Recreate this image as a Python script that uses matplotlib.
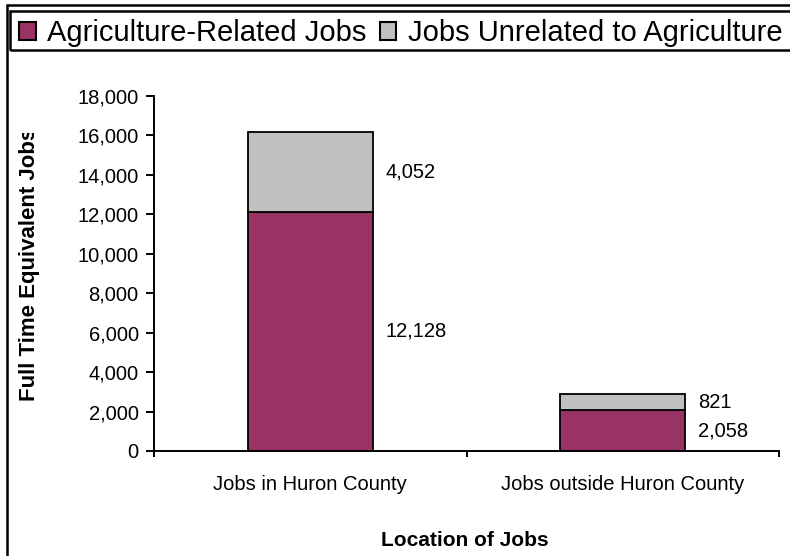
import matplotlib
matplotlib.use("Agg")
import matplotlib.pyplot as plt
from matplotlib.patches import Rectangle, Patch
from matplotlib.transforms import Bbox

plt.rcParams['font.family'] = ['Liberation Sans', 'DejaVu Sans']

categories = ["Jobs in Huron County", "Jobs outside Huron County"]
agri = [12128, 2058]
non_agri = [4052, 821]
series_names = ["Agriculture-Related Jobs", "Jobs Unrelated to Agriculture"]
yticks = [0, 2000, 4000, 6000, 8000, 10000, 12000, 14000, 16000, 18000]

c_agri = "#993366"
c_non = "#C0C0C0"

W, H = 790, 556
fig = plt.figure(figsize=(W / 100, H / 100), dpi=100)

def fx(px):
    return px / W

def fy(py):
    return 1 - py / H

# outer chart border (right/bottom extend past figure edge)
fig.add_artist(Rectangle((fx(7), fy(600)), fx(900), fy(5) - fy(600),
                         transform=fig.transFigure, fill=False,
                         edgecolor="black", linewidth=1.8))
# legend frame
fig.add_artist(Rectangle((fx(10), fy(50)), fx(900), fy(11) - fy(50),
                         transform=fig.transFigure, fill=False,
                         edgecolor="black", linewidth=1.8))

ax = fig.add_axes([fx(154), fy(451), fx(779) - fx(154), fy(96) - fy(451)])
x = list(range(len(categories)))
width = 0.4
ax.bar(x, agri, width=width, color=c_agri, edgecolor="black", linewidth=1.3)
ax.bar(x, non_agri, width=width, bottom=agri, color=c_non, edgecolor="black", linewidth=1.3)

for i in x:
    ax.text(i + width / 2 + 0.04, agri[i] / 2, f"{agri[i]:,}", ha="left", va="center", fontsize=14.5)
    ax.text(i + width / 2 + 0.04, agri[i] + non_agri[i] / 2, f"{non_agri[i]:,}", ha="left", va="center", fontsize=14.5)

ax.set_xlim(-0.5, 1.5)
ax.set_ylim(0, 18000)
ax.set_yticks(yticks)
ax.set_yticklabels([f"{v:,}" for v in yticks], fontsize=14.5)
ax.set_xticks(x)
ax.set_xticklabels(categories, fontsize=14.5)
ax.tick_params(axis="x", which="major", length=0, pad=17)
ax.set_xticks([-0.5, 0.5, 1.5], minor=True)
ax.tick_params(axis="x", which="minor", length=4.5, width=1.4, direction="out")
ax.tick_params(axis="y", length=6, width=1.4, direction="out", pad=5)
for s in ["top", "right"]:
    ax.spines[s].set_visible(False)
for s in ["left", "bottom"]:
    ax.spines[s].set_linewidth(1.4)

fig.text(fx(465), fy(541), "Location of Jobs", ha="center", va="center",
         fontsize=15, fontweight="bold")
ylab = fig.text(fx(30), fy(401), "Full Time Equivalent Jobs", rotation=90, ha="center", va="bottom",
                fontsize=16, fontweight="bold")
ylab.set_clip_box(Bbox.from_extents(0, 0, W, H - 133))
ylab.set_clip_on(True)

handles = [Patch(facecolor=c_agri, edgecolor="black", linewidth=1.5),
           Patch(facecolor=c_non, edgecolor="black", linewidth=1.5)]
fig.legend(handles, series_names, loc="center left", bbox_to_anchor=(fx(19), fy(33)),
           ncol=2, frameon=False, fontsize=21, handlelength=0.57, handleheight=0.57,
           handletextpad=0.4, columnspacing=0.45, borderpad=0, borderaxespad=0)

fig.savefig("out.png", dpi=100)
